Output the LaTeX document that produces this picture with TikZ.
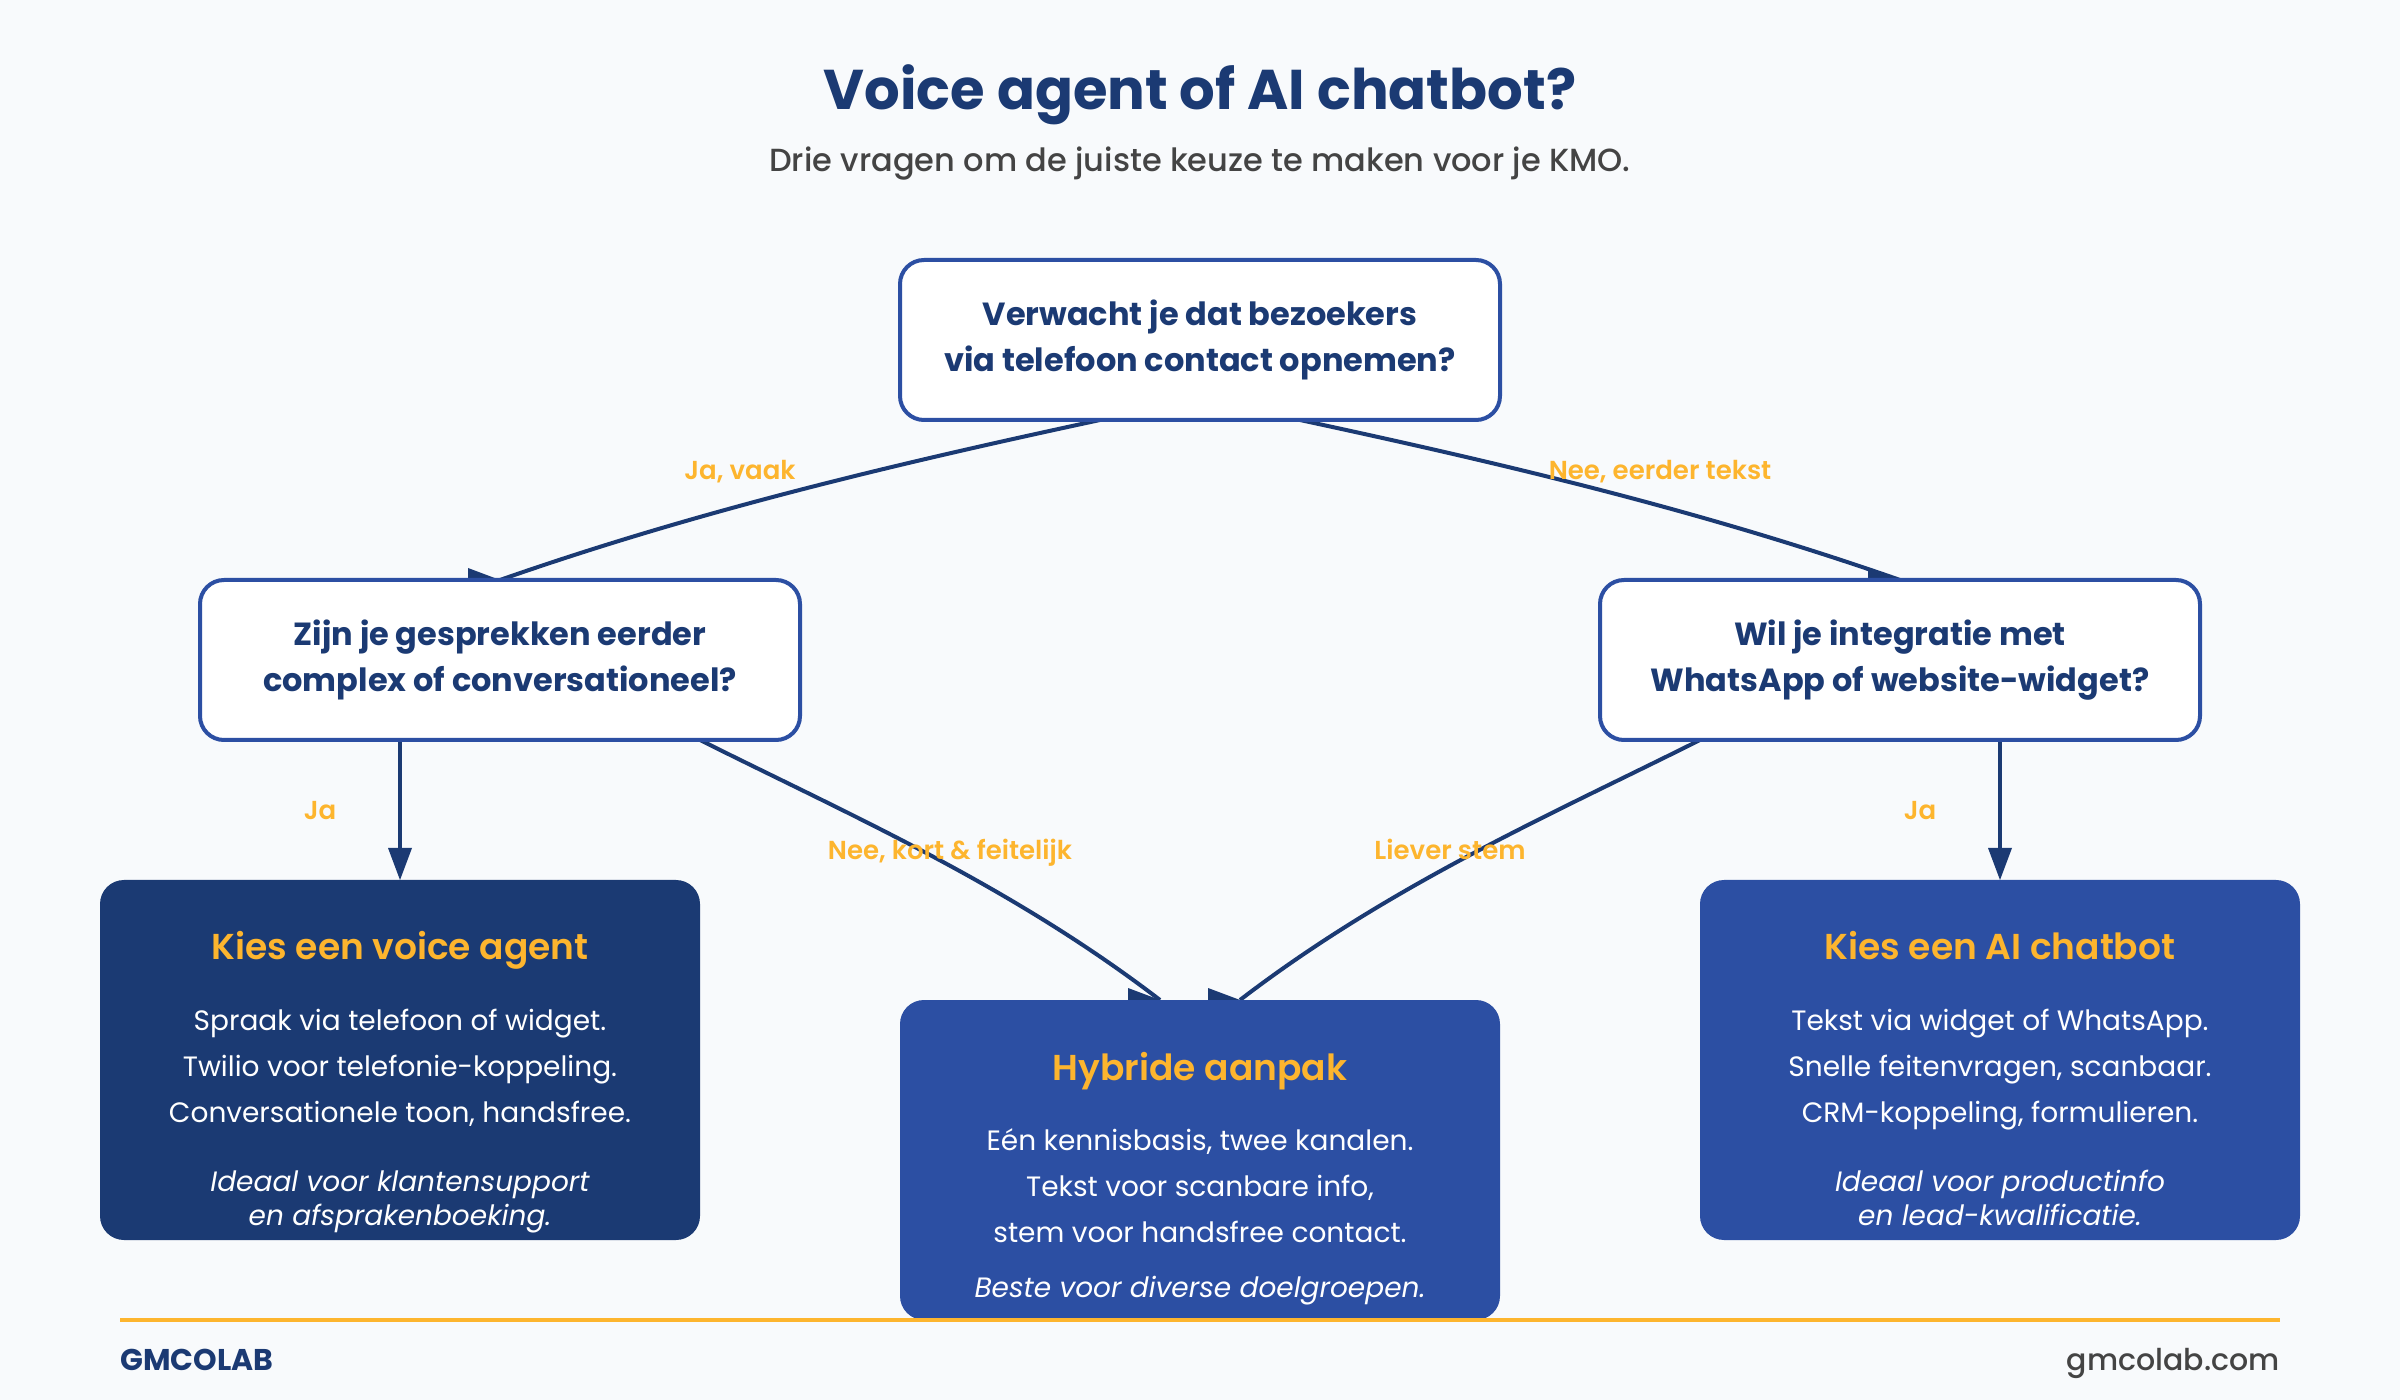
\documentclass[tikz,border=0pt]{standalone}
\usepackage{fontspec}
\setmainfont{Poppins}
\newfontfamily\popsemi{Poppins SemiBold}
\newfontfamily\popmed{Poppins Medium}
\usetikzlibrary{calc}
\definecolor{navy}{HTML}{1B3A73}
\definecolor{royal}{HTML}{2C4FA3}
\definecolor{amber}{HTML}{FDB52E}
\definecolor{paper}{HTML}{F8FAFC}
\definecolor{slate}{HTML}{444444}
\pgfdeclarelayer{back}
\pgfdeclarelayer{wires}
\pgfsetlayers{back,wires,main}
\tikzset{
  x=0.5pt,y=-0.5pt,
  question/.style={draw=royal,fill=white,line width=2pt,rounded corners=12pt,minimum width=300pt,minimum height=80pt,outer sep=0pt,inner sep=0pt,align=center,text=navy,font=\fontsize{16}{23}\selectfont\bfseries},
  outcomeA/.style={fill=navy,rounded corners=12pt,minimum width=300pt,minimum height=180pt,outer sep=0pt,inner sep=0pt},
  outcomeB/.style={outcomeA,fill=royal},
  hybrid/.style={outcomeA,fill=royal,minimum height=160pt},
  head/.style={font=\fontsize{18}{22}\selectfont\popsemi,text=amber,anchor=base},
  body/.style={font=\fontsize{14}{18}\selectfont,text=white,anchor=base},
  note/.style={font=\fontsize{14}{18}\selectfont\itshape,text=white,anchor=base},
  edgelabel/.style={font=\fontsize{13}{16}\selectfont\popsemi,text=amber,anchor=base},
  wire/.style={navy,line width=2pt},
  tip/.style={fill=navy,draw=none},
}
\begin{document}
\begin{tikzpicture}
\useasboundingbox (0,0) rectangle (2400,1400);
\begin{pgfonlayer}{back}
\fill[paper] (0,0) rectangle (2400,1400);
\end{pgfonlayer}
% titles
\node[font=\fontsize{28}{34}\selectfont\bfseries,text=navy,anchor=base] (title) at (1200,110) {Voice agent of AI chatbot?};
\node[font=\fontsize{16}{20}\selectfont\popmed,text=slate,anchor=base] (sub) at (1200,172) {Drie vragen om de juiste keuze te maken voor je KMO.};
% decision nodes
\node[question] (q1) at (1200,340) {Verwacht je dat bezoekers\\via telefoon contact opnemen?};
\node[question] (q2) at (500,660) {Zijn je gesprekken eerder\\complex of conversationeel?};
\node[question] (q3) at (1900,660) {Wil je integratie met\\WhatsApp of website-widget?};
% outcome boxes
\node[outcomeA] (voice) at (400,1060) {};
\node[hybrid] (hyb) at (1200,1160) {};
\node[outcomeB] (bot) at (2000,1060) {};
% connector ends
\coordinate (q1l) at ($(q1.south)+(-100,0)$);
\coordinate (q1r) at ($(q1.south)+(100,0)$);
\coordinate (q2l) at ($(q2.south)+(-100,0)$);
\coordinate (q2r) at ($(q2.south)+(200,0)$);
\coordinate (q3l) at ($(q3.south)+(-200,0)$);
\coordinate (q3r) at ($(q3.south)+(100,0)$);
\coordinate (hl) at ($(hyb.north)+(-40,0)$);
\coordinate (hr) at ($(hyb.north)+(40,0)$);
\begin{pgfonlayer}{wires}
\draw[wire] (q1l) .. controls +(-200,43) and ($(q2.north)+(200,-70)$) .. (q2.north);
\draw[wire] (q1r) .. controls +(200,43) and ($(q3.north)+(-200,-70)$) .. (q3.north);
\draw[wire] (q2l) -- ($(voice.north)+(0,-30)$);
\draw[wire] (q3r) -- ($(bot.north)+(0,-30)$);
\draw[wire] (q2r) .. controls +(150,75) and ($(hl)+(-150,-115)$) .. (hl);
\draw[wire] (q3l) .. controls +(-150,75) and ($(hr)+(150,-115)$) .. (hr);
% arrowheads
\fill[tip] (q2.north) -- ++(-32,-12) -- ++(0,24) -- cycle;
\fill[tip] (q3.north) -- ++(-32,-12) -- ++(0,24) -- cycle;
\fill[tip] (hl) -- ++(-32,-12) -- ++(0,24) -- cycle;
\fill[tip] (hr) -- ++(-32,-12) -- ++(0,24) -- cycle;
\fill[tip] (voice.north) -- ++(-12,-32) -- ++(24,0) -- cycle;
\fill[tip] (bot.north) -- ++(-12,-32) -- ++(24,0) -- cycle;
\end{pgfonlayer}
% edge labels
\node[edgelabel] (l1) at (740,480) {Ja, vaak};
\node[edgelabel] (l2) at (1660,480) {Nee, eerder tekst};
\node[edgelabel] (l3) at (320,820) {Ja};
\node[edgelabel] (l4) at (950,860) {Nee, kort \& feitelijk};
\node[edgelabel] (l5) at (1450,860) {Liever stem};
\node[edgelabel] (l6) at (1920,820) {Ja};
% voice
\node[head] (v0) at (400,960) {Kies een voice agent};
\node[body] (v1) at (400,1030) {Spraak via telefoon of widget.};
\node[body] (v2) at (400,1076) {Twilio voor telefonie-koppeling.};
\node[body] (v3) at (400,1122) {Conversationele toon, handsfree.};
\node[note] (v4) at (400,1191) {Ideaal voor klantensupport};
\node[note] (v5) at (400,1225) {en afsprakenboeking.};
% hybrid
\node[head] (h0) at (1200,1080) {Hybride aanpak};
\node[body] (h1) at (1200,1150) {Eén kennisbasis, twee kanalen.};
\node[body] (h2) at (1200,1196) {Tekst voor scanbare info,};
\node[body] (h3) at (1200,1242) {stem voor handsfree contact.};
\node[note] (h4) at (1200,1297) {Beste voor diverse doelgroepen.};
% bot
\node[head] (b0) at (2000,960) {Kies een AI chatbot};
\node[body] (b1) at (2000,1030) {Tekst via widget of WhatsApp.};
\node[body] (b2) at (2000,1076) {Snelle feitenvragen, scanbaar.};
\node[body] (b3) at (2000,1122) {CRM-koppeling, formulieren.};
\node[note] (b4) at (2000,1191) {Ideaal voor productinfo};
\node[note] (b5) at (2000,1225) {en lead-kwalificatie.};
% footer
\coordinate (fl) at (120,1320);
\coordinate (fr) at (2280,1320);
\draw[amber,line width=2pt] (fl) -- (fr);
\node[font=\fontsize{15}{18}\selectfont\bfseries,text=navy,anchor=base west,inner sep=0pt] (f1) at (120,1370) {GMCOLAB};
\node[font=\fontsize{15}{18}\selectfont\popmed,text=slate,anchor=base east,inner sep=0pt] (f2) at (2280,1370) {gmcolab.com};
\end{tikzpicture}
\end{document}
